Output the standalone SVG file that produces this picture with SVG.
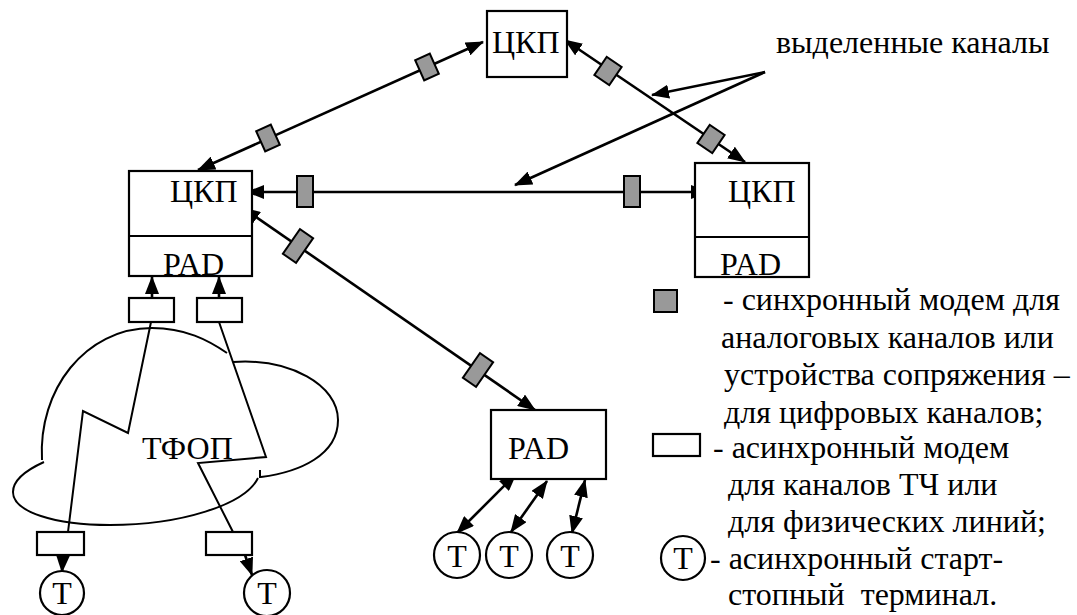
<svg xmlns="http://www.w3.org/2000/svg" width="1077" height="615" viewBox="0 0 1077 615" font-family="'Liberation Serif', Tinos, 'Times New Roman', Times, 'Noto Serif', 'DejaVu Serif', serif">
<style>
text{font-family:'Liberation Serif',Tinos,'Times New Roman',Times,'Noto Serif','DejaVu Serif',serif;font-size:32px;fill:#000}
.box{fill:#fff;stroke:#000;stroke-width:2.2}
.ln{fill:none;stroke:#000;stroke-width:2.6}
.thin{fill:none;stroke:#000;stroke-width:2}
.sm{fill:#999;stroke:#000;stroke-width:2}
.am{fill:#fff;stroke:#000;stroke-width:2.2}
.tc{fill:#fff;stroke:#000;stroke-width:2.2}
.mid{text-anchor:middle}
</style>
<defs>
<marker id="arr" viewBox="0 0 18 14" refX="17" refY="7" markerWidth="18" markerHeight="14" markerUnits="userSpaceOnUse" orient="auto-start-reverse">
<path d="M0,0 L18,7 L0,14 z" fill="#000"/>
</marker>
</defs>
<rect width="1077" height="615" fill="#fff"/>

<g id="cloud">
<path class="thin" d="M42,460 C38,390 85,328 152,328 C185,328 208,340 227,353"/>
<path class="thin" d="M233,362 C290,358 338,385 338,420 C338,455 300,472 261,477 M260,470 L260,478"/>
<path class="thin" d="M44,462 C22,472 13,482 13,492 C13,512 55,525 110,525 C180,525 245,505 258,478"/>
<text x="142" y="459">ТФОП</text>
</g>

<g id="connectors">
<path class="ln" d="M198,170 L483,42" marker-start="url(#arr)" marker-end="url(#arr)"/>
<path class="ln" d="M565,40 L745,162" marker-start="url(#arr)" marker-end="url(#arr)"/>
<path class="ln" d="M247,192 L708,192" marker-start="url(#arr)" marker-end="url(#arr)"/>
<path class="ln" d="M243,208 L535,410" marker-start="url(#arr)" marker-end="url(#arr)"/>
<path class="ln" d="M516,474 L457,533" marker-start="url(#arr)" marker-end="url(#arr)"/>
<path class="ln" d="M547,481 L511,532" marker-start="url(#arr)" marker-end="url(#arr)"/>
<path class="ln" d="M585,480 L572,533" marker-start="url(#arr)" marker-end="url(#arr)"/>
<path class="ln" d="M152,298 L152,277" marker-end="url(#arr)"/>
<path class="ln" d="M219,298 L219,277" marker-end="url(#arr)"/>
<path class="ln" d="M63,555 L62,572" marker-end="url(#arr)"/>
<path class="ln" d="M245,555 L252,575" marker-end="url(#arr)"/>
<polyline class="thin" points="151,322 128,433 83,411 68,532"/>
<polyline class="thin" points="219,322 266,457 198,463 233,532"/>
<path class="ln" d="M765,72 L652,95" marker-end="url(#arr)"/>
<path class="ln" d="M765,72 L515,185" marker-end="url(#arr)"/>
</g>

<g id="sync-modems">
<rect class="sm" x="-8" y="-11" width="16" height="22" transform="translate(268,138) rotate(-24.2)"/>
<rect class="sm" x="-8" y="-11" width="16" height="22" transform="translate(427,67) rotate(-24.2)"/>
<rect class="sm" x="-9" y="-11" width="18" height="22" transform="translate(608,71) rotate(34.1)"/>
<rect class="sm" x="-9" y="-11" width="18" height="22" transform="translate(711,139) rotate(34.1)"/>
<rect class="sm" x="297" y="176" width="16" height="31"/>
<rect class="sm" x="624" y="176" width="16" height="31"/>
<rect class="sm" x="-8" y="-15" width="16" height="30" transform="translate(298,246) rotate(34.7)"/>
<rect class="sm" x="-8" y="-15" width="16" height="30" transform="translate(478,370) rotate(34.7)"/>
</g>

<g id="async-modems">
<rect class="am" x="129" y="298" width="45" height="24"/>
<rect class="am" x="197" y="298" width="45" height="24"/>
<rect class="am" x="37" y="532" width="47" height="23"/>
<rect class="am" x="206" y="532" width="46" height="23"/>
</g>

<g id="ckp-top">
<rect class="box" x="487" y="11" width="80" height="66"/>
<text x="492" y="53">ЦКП</text>
</g>

<g id="ckp-left">
<rect class="box" x="129" y="171" width="123" height="105"/>
<line class="thin" x1="129" y1="236" x2="252" y2="236"/>
<text x="170" y="202">ЦКП</text>
<text x="163" y="275">PAD</text>
</g>

<g id="ckp-right">
<rect class="box" x="695" y="163" width="114" height="114"/>
<line class="thin" x1="695" y1="237" x2="809" y2="237"/>
<text x="728" y="202">ЦКП</text>
<text x="720" y="275">PAD</text>
</g>

<g id="pad-bottom">
<rect class="box" x="491" y="410" width="115" height="69"/>
<text x="508" y="459">PAD</text>
</g>

<g id="terminals">
<circle class="tc" cx="457" cy="555" r="23"/><text class="mid" x="457" y="567">Т</text>
<circle class="tc" cx="509" cy="555" r="23"/><text class="mid" x="509" y="567">Т</text>
<circle class="tc" cx="570" cy="555" r="23"/><text class="mid" x="570" y="567">Т</text>
<circle class="tc" cx="62" cy="593" r="22"/><text class="mid" x="62" y="604">Т</text>
<circle class="tc" cx="267" cy="593" r="23"/><text class="mid" x="267" y="604">Т</text>
</g>

<g id="label-channels">
<text x="776" y="53">выделенные каналы</text>
</g>

<g id="legend">
<rect class="sm" x="654" y="290" width="23" height="22"/>
<text x="723" y="310">- синхронный модем для</text>
<text x="721" y="348">аналоговых каналов или</text>
<text x="724" y="385">устройства сопряжения –</text>
<text x="724" y="423">для цифровых каналов;</text>
<rect class="am" x="653" y="434" width="47" height="22"/>
<text x="713" y="458">- асинхронный модем</text>
<text x="728" y="495">для каналов ТЧ или</text>
<text x="728" y="532">для физических линий;</text>
<circle class="tc" cx="683" cy="558" r="22"/><text class="mid" x="683" y="569">Т</text>
<text x="710" y="569">- асинхронный старт-</text>
<text x="728" y="605" xml:space="preserve">стопный  терминал.</text>
</g>
</svg>
